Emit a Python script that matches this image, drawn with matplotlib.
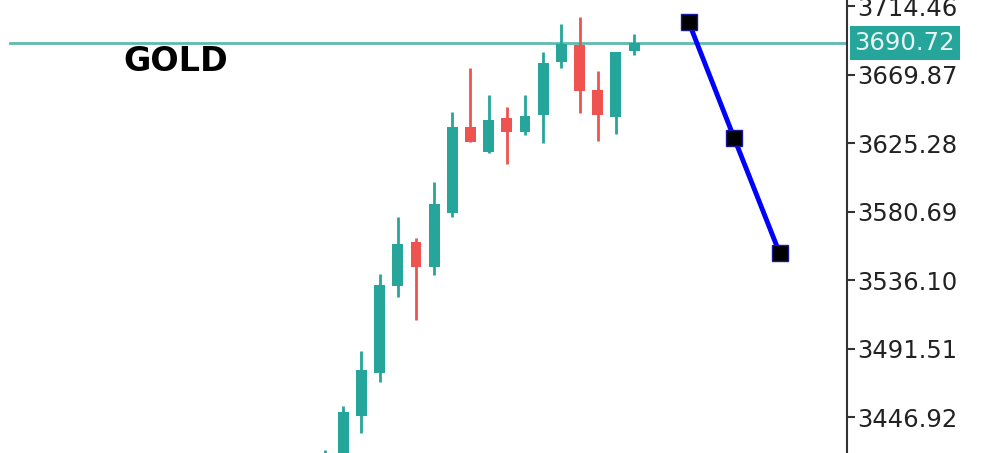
import matplotlib.pyplot as plt
import matplotlib.transforms as mtransforms

# OHLC 数据
opens = [3400.0, 3410.0, 3447.9, 3475.9, 3532.5, 3561.2, 3544.9, 3580.1, 3636.0,
         3619.8, 3641.9, 3632.8, 3643.9, 3678.3, 3689.4, 3660.1, 3642.5, 3685.5]
highs = [3425.7, 3454.4, 3490.2, 3540.3, 3577.4, 3563.7, 3600.2, 3645.8, 3674.4,
         3656.8, 3649.0, 3656.8, 3684.8, 3703.1, 3707.6, 3672.5, 3684.8, 3696.6]
lows = [3395.0, 3400.0, 3436.8, 3470.0, 3525.3, 3510.4, 3539.7, 3577.4, 3626.3,
        3619.1, 3611.9, 3630.8, 3625.6, 3674.4, 3645.1, 3626.9, 3631.5, 3682.9]
closes = [3418.0, 3450.5, 3477.8, 3533.2, 3559.9, 3544.9, 3585.9, 3636.0, 3626.3,
          3640.6, 3632.8, 3643.2, 3677.7, 3690.1, 3659.5, 3643.9, 3684.8, 3690.72]

# 预测线
proj_x = [20, 22.5, 25]
proj_y = [3704.4, 3628.9, 3554.0]

current_price = 3690.72
y_ticks = [3446.92, 3491.51, 3536.10, 3580.69, 3625.28, 3669.87, 3714.46]

up_color = '#26a69a'
down_color = '#ef5350'

fig = plt.figure(figsize=(10, 4.53), dpi=100)
ax = fig.add_axes([0, 0, 0.847, 1])

# 画K线
for i in range(len(opens)):
    o, h, l, c = opens[i], highs[i], lows[i], closes[i]
    color = up_color if c >= o else down_color
    ax.vlines(i, l, h, color=color, linewidth=2, zorder=2)
    ax.bar(i, abs(c - o), bottom=min(o, c), width=0.6, color=color, zorder=3)

# 当前价格线
ax.axhline(current_price, xmin=0.012, xmax=1, color='#5dbcae', linewidth=2, zorder=1)

# 预测线
ax.plot(proj_x, proj_y, color='#0000ff', linewidth=3.5, marker='s', markersize=11,
        markerfacecolor='black', markeredgecolor='#1a1aa0', markeredgewidth=1, zorder=5)

ax.set_xlim(-17.88, 28.71)
ax.set_ylim(3423.76, 3718.69)

# 坐标轴
for side in ['left', 'top', 'bottom']:
    ax.spines[side].set_visible(False)
ax.spines['right'].set_color('#333333')
ax.spines['right'].set_linewidth(1.5)
ax.set_xticks([])
ax.yaxis.tick_right()
ax.set_yticks(y_ticks)
ax.set_yticklabels(['%.2f' % v for v in y_ticks])
ax.tick_params(axis='y', direction='out', length=6, width=1.5, color='#333333',
               labelsize=17.5, labelcolor='#222222', pad=1)

# 当前价格标签
trans = mtransforms.blended_transform_factory(ax.transAxes, ax.transData)
ax.text(1.009, current_price, '%.2f' % current_price, transform=trans,
        fontsize=17.5, color='#e8f5f3', va='center', ha='left', clip_on=False,
        bbox=dict(boxstyle='square,pad=0.2', facecolor=up_color, edgecolor='none'), zorder=6)

# 标题
fig.text(0.176, 0.865, 'GOLD', fontsize=24, fontweight='bold', family='DejaVu Sans',
         ha='center', va='center', color='black')

plt.savefig('out.png', dpi=100)
